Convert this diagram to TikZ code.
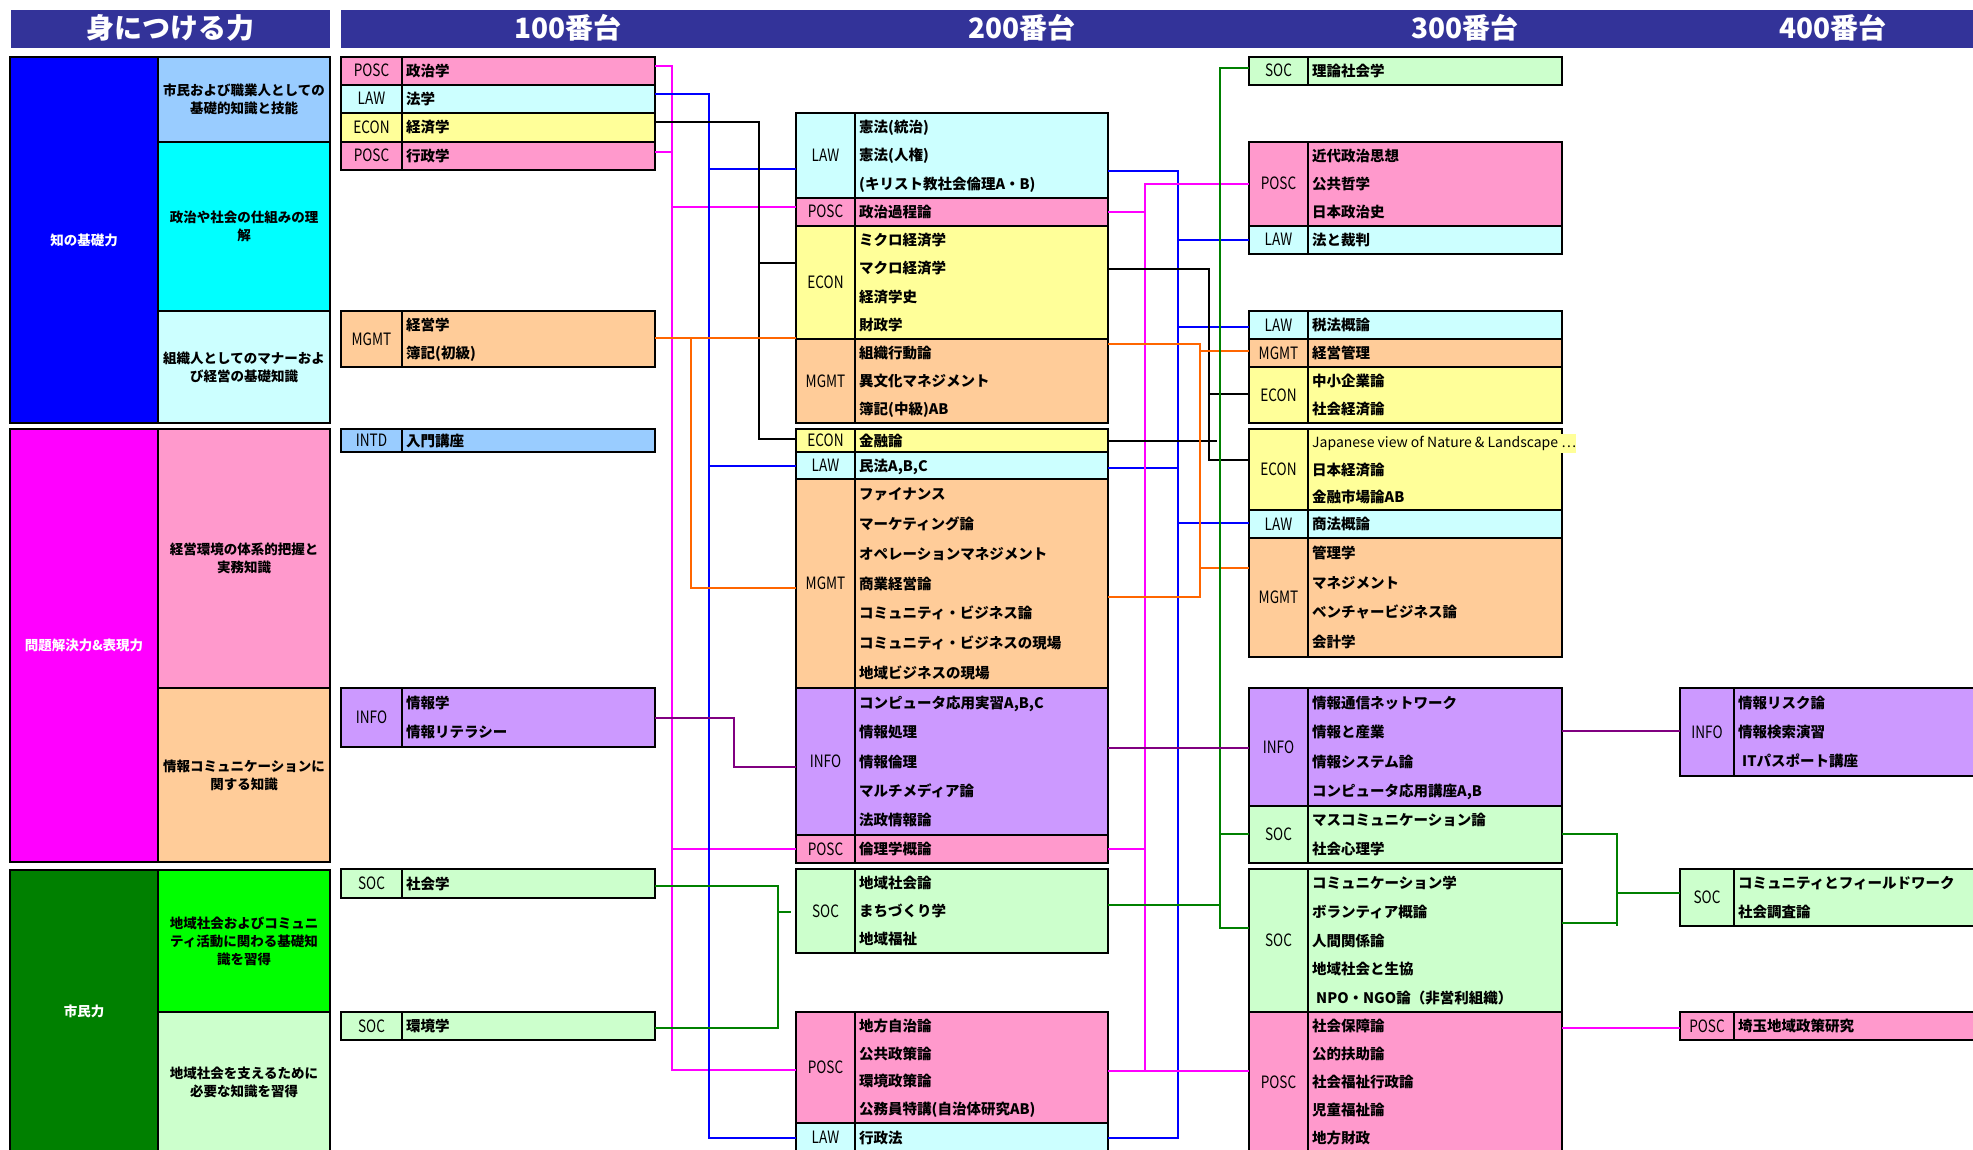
\documentclass[tikz,border=0pt]{standalone}
\usepackage{fontspec}
\usepackage{graphicx}
\setmainfont{Noto Sans CJK JP}
\definecolor{hdr}{RGB}{51,51,153}
\definecolor{pinkc}{HTML}{FF99CC}
\definecolor{cyanc}{HTML}{CCFFFF}
\definecolor{yelc}{HTML}{FFFF99}
\definecolor{peachc}{HTML}{FFCC99}
\definecolor{lbluec}{HTML}{99CCFF}
\definecolor{lavc}{HTML}{CC99FF}
\definecolor{lgrnc}{HTML}{CCFFCC}
\definecolor{magc}{HTML}{FF00FF}
\definecolor{bluc}{HTML}{0000FF}
\definecolor{orgc}{HTML}{FF6600}
\definecolor{purc}{HTML}{800080}
\definecolor{grnc}{HTML}{008000}
\definecolor{dgrn}{HTML}{008000}
\definecolor{brtgrn}{HTML}{00FF00}
\definecolor{aqua}{HTML}{00FFFF}
\newcount\nlines
% name, x0, xsplit, x1, y0, y1, fill, code, lines
\newcommand\course[9]{%
  \node[crs,fill=#7,minimum width={(#4)-(#2)},minimum height={(#6)-(#5)}] (#1) at (#2,#5) {};
  \draw[bord] (#3,#5) -- (#3,#6);
  \node[codef] at ({((#2)+(#3))/2},{((#5)+(#6))/2+6}) {\scalebox{0.8}[1]{#8}};
  \global\nlines=0
  \foreach \myline in {#9}{\global\advance\nlines by 1}
  \pgfmathsetmacro\mypitch{((#6)-(#5))/\the\nlines}
  \foreach \myline [count=\i] in {#9}{\node[namef] at ({(#3)+4},{(#5)+(\i-0.5)*\mypitch+5.5}) {\myline};}
}
\begin{document}
\begin{tikzpicture}[x=1pt,y=-1pt,
  bord/.style={draw=black,line width=2pt},
  crs/.style={draw=black,line width=2pt,inner sep=0pt,outer sep=0pt,anchor=north west},
  panel/.style={draw=black,line width=2pt,inner sep=0pt,outer sep=0pt,anchor=north west},
  hbar/.style={fill=hdr,inner sep=0pt,outer sep=0pt,anchor=north west},
  hdrtxt/.style={text=white,font=\bfseries\fontsize{28}{28}\selectfont,anchor=base,inner sep=0pt},
  ltxt/.style={font=\bfseries\fontsize{13.5}{18}\selectfont,align=center,inner sep=0pt},
  codef/.style={anchor=base,inner sep=0pt,font=\fontsize{17}{17}\selectfont},
  namef/.style={anchor=base west,inner sep=0pt,font=\bfseries\fontsize{14.5}{14.5}\selectfont},
  lnk/.style={line width=1.5pt},
  cmag/.style={lnk,draw=magc},
  cblu/.style={lnk,draw=bluc},
  cblk/.style={lnk,draw=black},
  corg/.style={lnk,draw=orgc},
  cpur/.style={lnk,draw=purc},
  cgrn/.style={lnk,draw=grnc}]
\useasboundingbox (0,0) rectangle (1973,1150);
\clip (0,0) rectangle (1973,1150);

% headers
\node[hbar,minimum width=319,minimum height=38] (h0) at (11,10) {};
\node[hbar,minimum width=1640,minimum height=38] (h1) at (341,10) {};
\node[hdrtxt] (t0) at (170,39) {身につける力};
\node[hdrtxt] (t1) at (568,39) {100番台};
\node[hdrtxt] (t2) at (1022,39) {200番台};
\node[hdrtxt] (t3) at (1465,39) {300番台};
\node[hdrtxt] (t4) at (1833,39) {400番台};

% left panel
\node[panel,fill=bluc,minimum width=148,minimum height=366] (L1) at (10,57) {};
\node[panel,fill=lbluec,minimum width=172,minimum height=85] (M1) at (158,57) {};
\node[panel,fill=aqua,minimum width=172,minimum height=169] (M2) at (158,142) {};
\node[panel,fill=cyanc,minimum width=172,minimum height=112] (M3) at (158,311) {};
\node[panel,fill=magc,minimum width=148,minimum height=433] (L2) at (10,429) {};
\node[panel,fill=pinkc,minimum width=172,minimum height=259] (M4) at (158,429) {};
\node[panel,fill=peachc,minimum width=172,minimum height=174] (M5) at (158,688) {};
\node[panel,fill=dgrn,minimum width=148,minimum height=282] (L3) at (10,870) {};
\node[panel,fill=brtgrn,minimum width=172,minimum height=142] (M6) at (158,870) {};
\node[panel,fill=lgrnc,minimum width=172,minimum height=140] (M7) at (158,1012) {};
\node[ltxt,text=white] at (L1.center) {知の基礎力};
\node[ltxt] at (M1.center) {市民および職業人としての\\基礎的知識と技能};
\node[ltxt] at (M2.center) {政治や社会の仕組みの理\\解};
\node[ltxt] at (M3.center) {組織人としてのマナーおよ\\び経営の基礎知識};
\node[ltxt,text=white] at (L2.center) {問題解決力\&表現力};
\node[ltxt] at (M4.center) {経営環境の体系的把握と\\実務知識};
\node[ltxt] at (M5.center) {情報コミュニケーションに\\関する知識};
\node[ltxt,text=white] at (L3.center) {市民力};
\node[ltxt] at (M6.center) {地域社会およびコミュニ\\ティ活動に関わる基礎知\\識を習得};
\node[ltxt] at (M7.center) {地域社会を支えるために\\必要な知識を習得};

% 100
\course{aposcA}{341}{402}{655}{57}{85}{pinkc}{POSC}{政治学}
\course{alaw}{341}{402}{655}{85}{113}{cyanc}{LAW}{法学}
\course{aecon}{341}{402}{655}{113}{142}{yelc}{ECON}{経済学}
\course{aposcB}{341}{402}{655}{142}{170}{pinkc}{POSC}{行政学}
\course{amgmt}{341}{402}{655}{311}{367}{peachc}{MGMT}{経営学,簿記(初級)}
\course{aintd}{341}{402}{655}{429}{452}{lbluec}{INTD}{入門講座}
\course{ainfo}{341}{402}{655}{688}{747}{lavc}{INFO}{情報学,情報リテラシー}
\course{asocA}{341}{402}{655}{869}{898}{lgrnc}{SOC}{社会学}
\course{asocB}{341}{402}{655}{1012}{1040}{lgrnc}{SOC}{環境学}

% 200
\course{blawA}{796}{855}{1108}{113}{198}{cyanc}{LAW}{憲法(統治),憲法(人権),(キリスト教社会倫理A・B)}
\course{bposcA}{796}{855}{1108}{198}{226}{pinkc}{POSC}{政治過程論}
\course{beconA}{796}{855}{1108}{226}{339}{yelc}{ECON}{ミクロ経済学,マクロ経済学,経済学史,財政学}
\course{bmgmtA}{796}{855}{1108}{339}{423}{peachc}{MGMT}{組織行動論,異文化マネジメント,簿記(中級)AB}
\course{beconB}{796}{855}{1108}{429}{452}{yelc}{ECON}{金融論}
\course{blawB}{796}{855}{1108}{452}{479}{cyanc}{LAW}{{民法A,B,C}}
\course{bmgmtB}{796}{855}{1108}{479}{688}{peachc}{MGMT}{ファイナンス,マーケティング論,オペレーションマネジメント,商業経営論,コミュニティ・ビジネス論,コミュニティ・ビジネスの現場,地域ビジネスの現場}
\course{binfo}{796}{855}{1108}{688}{835}{lavc}{INFO}{{コンピュータ応用実習A,B,C},情報処理,情報倫理,マルチメディア論,法政情報論}
\course{bposcB}{796}{855}{1108}{835}{863}{pinkc}{POSC}{倫理学概論}
\course{bsoc}{796}{855}{1108}{869}{953}{lgrnc}{SOC}{地域社会論,まちづくり学,地域福祉}
\course{bposcC}{796}{855}{1108}{1012}{1123}{pinkc}{POSC}{地方自治論,公共政策論,環境政策論,公務員特講(自治体研究AB)}
\course{blawC}{796}{855}{1108}{1123}{1152}{cyanc}{LAW}{行政法}

% 300
\course{csocA}{1249}{1308}{1562}{57}{85}{lgrnc}{SOC}{理論社会学}
\course{cposcA}{1249}{1308}{1562}{142}{226}{pinkc}{POSC}{近代政治思想,公共哲学,日本政治史}
\course{clawA}{1249}{1308}{1562}{226}{254}{cyanc}{LAW}{法と裁判}
\course{clawB}{1249}{1308}{1562}{311}{339}{cyanc}{LAW}{税法概論}
\course{cmgmtA}{1249}{1308}{1562}{339}{367}{peachc}{MGMT}{経営管理}
\course{ceconA}{1249}{1308}{1562}{367}{423}{yelc}{ECON}{中小企業論,社会経済論}
\course{ceconB}{1249}{1308}{1562}{429}{510}{yelc}{ECON}{\mbox{},日本経済論,金融市場論AB}
\node[anchor=base west,inner xsep=0pt,inner ysep=2pt,fill=yelc,font=\fontsize{14}{14}\selectfont] (jv) at (1312,447.5) {Japanese view of Nature \& Landscape …};
\course{clawC}{1249}{1308}{1562}{510}{538}{cyanc}{LAW}{商法概論}
\course{cmgmtB}{1249}{1308}{1562}{538}{657}{peachc}{MGMT}{管理学,マネジメント,ベンチャービジネス論,会計学}
\course{cinfo}{1249}{1308}{1562}{688}{806}{lavc}{INFO}{情報通信ネットワーク,情報と産業,情報システム論,{コンピュータ応用講座A,B}}
\course{csocB}{1249}{1308}{1562}{806}{863}{lgrnc}{SOC}{マスコミュニケーション論,社会心理学}
\course{csocC}{1249}{1308}{1562}{869}{1012}{lgrnc}{SOC}{コミュニケーション学,ボランティア概論,人間関係論,地域社会と生協,\hspace{4pt}NPO・NGO論（非営利組織）}
\course{cposcB}{1249}{1308}{1562}{1012}{1152}{pinkc}{POSC}{社会保障論,公的扶助論,社会福祉行政論,児童福祉論,地方財政}

% 400
\course{dinfo}{1680}{1734}{1995}{688}{776}{lavc}{INFO}{情報リスク論,情報検索演習,\hspace{4pt}ITパスポート講座}
\course{dsoc}{1680}{1734}{1995}{869}{926}{lgrnc}{SOC}{コミュニティとフィールドワーク,社会調査論}
\course{dposc}{1680}{1734}{1995}{1012}{1040}{pinkc}{POSC}{埼玉地域政策研究}

% junction coordinates
\coordinate (jm1) at (672,1070);
\coordinate (jb1) at (709,1138);
\coordinate (jk1) at (759,439);
\coordinate (jo1) at (691,338);
\coordinate (jp1) at (734,767);
\coordinate (jg1) at (778,1028);
\coordinate (jb2) at (1178,1138);
\coordinate (jm2) at (1145,184);
\coordinate (jk2) at (1209,460);
\coordinate (jo2) at (1200,597);
\coordinate (jg2) at (1220,68);
\coordinate (jg3) at (1617,926);

% 100 -> 200
\draw[cmag] (aposcA.east |- 0,66) -| (jm1) -- (bposcC.west |- jm1);
\draw[cmag] (aposcB.east |- 0,152) -- (jm1 |- 0,152);
\draw[cmag] (jm1 |- 0,207) -- (bposcA.west |- 0,207);
\draw[cmag] (jm1 |- 0,849) -- (bposcB.west |- 0,849);
\draw[cblu] (alaw.east |- 0,94) -| (jb1) -- (blawC.west |- jb1);
\draw[cblu] (jb1 |- 0,169) -- (blawA.west |- 0,169);
\draw[cblu] (jb1 |- 0,466) -- (blawB.west |- 0,466);
\draw[cblk] (aecon.east |- 0,122) -| (jk1) -- (beconB.west |- jk1);
\draw[cblk] (jk1 |- 0,263) -- (beconA.west |- 0,263);
\draw[corg] (amgmt.east |- jo1) -- (bmgmtA.west |- jo1);
\draw[corg] (jo1) |- (bmgmtB.west |- 0,588);
\draw[cpur] (ainfo.east |- 0,718) -| (jp1) -- (binfo.west |- jp1);
\draw[cgrn] (asocA.east |- 0,886) -| (jg1) -- (asocB.east |- jg1);
\draw[cgrn] (jg1 |- 0,912) -- (791,912);

% 200 -> 300
\draw[cblu] (blawA.east |- 0,171) -| (jb2) -- (blawC.east |- jb2);
\draw[cblu] (jb2 |- 0,240) -- (clawA.west |- 0,240);
\draw[cblu] (jb2 |- 0,327) -- (clawB.west |- 0,327);
\draw[cblu] (jb2 |- 0,523) -- (clawC.west |- 0,523);
\draw[cblu] (blawB.east |- 0,468) -- (jb2 |- 0,468);
\draw[cmag] (cposcA.west |- jm2) -- (jm2) -- (jm2 |- 0,1071) -- (cposcB.west |- 0,1071);
\draw[cmag] (bposcA.east |- 0,212) -- (jm2 |- 0,212);
\draw[cmag] (bposcB.east |- 0,849) -- (jm2 |- 0,849);
\draw[cmag] (bposcC.east |- 0,1071) -- (jm2 |- 0,1071);
\draw[cblk] (beconA.east |- 0,269) -| (jk2) -- (ceconB.west |- jk2);
\draw[cblk] (jk2 |- 0,394) -- (ceconA.west |- 0,394);
\draw[cblk] (beconB.east |- 0,441) -- (1217,441);
\draw[corg] (bmgmtA.east |- 0,344) -| (jo2) -- (bmgmtB.east |- jo2);
\draw[corg] (jo2 |- 0,351) -- (cmgmtA.west |- 0,351);
\draw[corg] (jo2 |- 0,568) -- (cmgmtB.west |- 0,568);
\draw[cgrn] (csocA.west |- jg2) -- (jg2) -- (jg2 |- 0,928) -- (csocC.west |- 0,928);
\draw[cgrn] (jg2 |- 0,834) -- (csocB.west |- 0,834);
\draw[cgrn] (bsoc.east |- 0,905) -- (jg2 |- 0,905);
\draw[cpur] (binfo.east |- 0,748) -- (cinfo.west |- 0,748);

% 300 -> 400
\draw[cpur] (cinfo.east |- 0,731) -- (dinfo.west |- 0,731);
\draw[cgrn] (csocB.east |- 0,834) -| (jg3);
\draw[cgrn] (csocC.east |- 0,923) -- (jg3 |- 0,923);
\draw[cgrn] (jg3 |- 0,893) -- (dsoc.west |- 0,893);
\draw[cmag] (cposcB.east |- 0,1028) -- (dposc.west |- 0,1028);
\end{tikzpicture}
\end{document}
